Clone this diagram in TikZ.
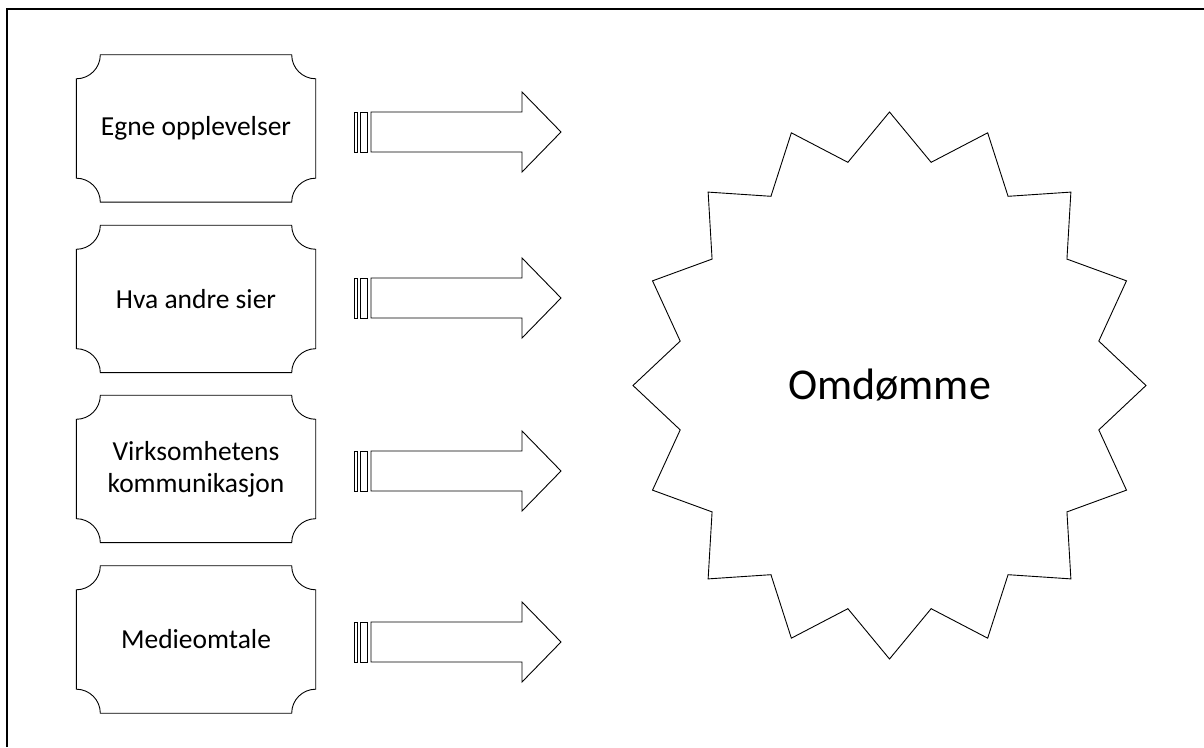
\documentclass[tikz,border=0pt]{standalone}
\usepackage{fontspec}
\setmainfont{Carlito}
\usetikzlibrary{calc}

\tikzset{
  box/.style={minimum width=239pt, minimum height=147pt, inner sep=0pt, align=center,
    font=\fontsize{27.5}{32}\selectfont},
  shape line/.style={line width=0.9pt, line join=miter}
}

% plaque outline round a box node
\newcommand{\plaque}[1]{
  \draw[shape line] ($(#1.north west)+(24,0)$) -- ($(#1.north east)+(-24,0)$)
    arc[start angle=180, end angle=270, radius=24pt]
    -- ($(#1.south east)+(0,24)$)
    arc[start angle=90, end angle=180, radius=24pt]
    -- ($(#1.south west)+(24,0)$)
    arc[start angle=0, end angle=90, radius=24pt]
    -- ($(#1.north west)+(0,-24)$)
    arc[start angle=270, end angle=360, radius=24pt] -- cycle;
}

% striped arrow starting at a coordinate
\newcommand{\stripedarrow}[1]{
  \draw[shape line] ($(#1)+(0,-20)$) rectangle ($(#1)+(3,20)$);
  \draw[shape line] ($(#1)+(6.5,-20)$) rectangle ($(#1)+(13,20)$);
  \draw[shape line] ($(#1)+(17,-20)$) -- ($(#1)+(168,-20)$) -- ($(#1)+(168,-40)$)
    -- ($(#1)+(207,0)$) -- ($(#1)+(168,40)$) -- ($(#1)+(168,20)$) -- ($(#1)+(17,20)$) -- cycle;
}

\begin{document}
\begin{tikzpicture}[x=1pt, y=1pt]

\useasboundingbox (0,0) rectangle (1204,747);

% frame
\draw[line width=1.3pt] (7,0) -- (7,738) -- (1204,738);

% boxes
\node[box] (egne) at (196,618.5) {Egne opplevelser};
\node[box] (andre) at (196,448) {Hva andre sier};
\node[box] (komm) at (196,278) {Virksomhetens\\kommunikasjon};
\node[box] (medie) at (196,107.5) {Medieomtale};

\foreach \b in {egne,andre,komm,medie}
  \plaque{\b};

% arrows
\coordinate (a1) at (354,615);
\coordinate (a2) at (354,449);
\coordinate (a3) at (354,276);
\coordinate (a4) at (354,105);

\foreach \a in {a1,a2,a3,a4}
  \stripedarrow{\a};

% star
\node[font=\fontsize{44}{50}\selectfont] (omd) at (889.5,361.5) {Omdømme};
\draw[shape line, shift={(omd.center)}] plot[samples at={0,...,31}]
  ({256.5*(1-0.168*mod(\x,2))*cos(90+11.25*\x)}, {273.5*(1-0.168*mod(\x,2))*sin(90+11.25*\x)}) -- cycle;

\end{tikzpicture}
\end{document}
